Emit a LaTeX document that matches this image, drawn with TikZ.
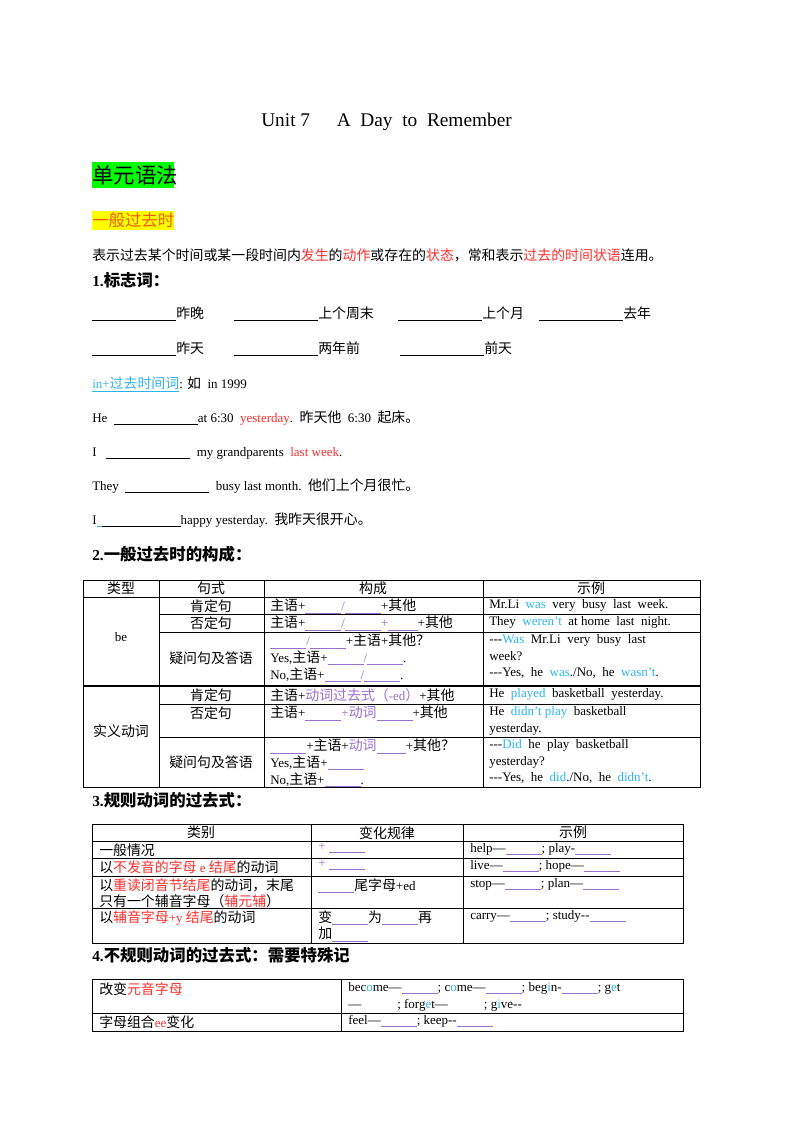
\documentclass[tikz,border=0pt]{standalone}
\usepackage{fontspec}
\usepackage[HTML]{xcolor}
\setmainfont{Liberation Serif}
\newfontfamily\cjk{Noto Sans CJK SC}[Scale=1.07]
% switch to the CJK font for Chinese characters and full-width punctuation
\XeTeXinterchartokenstate=1
\newXeTeXintercharclass\cjkclass
\count255="4E00 \loop\XeTeXcharclass\count255=\cjkclass\advance\count255 by 1 \ifnum\count255<"A000\repeat
\count255="3000 \loop\XeTeXcharclass\count255=\cjkclass\advance\count255 by 1 \ifnum\count255<"3040\repeat
\count255="FF00 \loop\XeTeXcharclass\count255=\cjkclass\advance\count255 by 1 \ifnum\count255<"FFF0\repeat
\XeTeXinterchartoks 0 \cjkclass={\cjk}
\XeTeXinterchartoks 4095 \cjkclass={\cjk}
\XeTeXinterchartoks \cjkclass 0={\rmfamily}
\XeTeXinterchartoks \cjkclass 4095={\rmfamily}
\usepackage{tikz}
\definecolor{pur}{HTML}{9B6FCF}
\definecolor{sky}{HTML}{2FB4EE}
\definecolor{rd}{HTML}{FF2E2E}
\definecolor{orng}{HTML}{EE5A10}
\definecolor{grn}{HTML}{00FF00}
\definecolor{ylw}{HTML}{FFFF00}
\newcommand\fs{\fontsize{9.75}{12.6}\selectfont}
\newcommand\bl[2][black]{\textcolor{#1}{\rule[-1.8pt]{#2pt}{0.5pt}}}
\newcommand\pb[1]{\bl[pur]{#1}}
\newcommand\sk[1]{\textcolor{sky}{#1}}
\newcommand\rt[1]{\textcolor{rd}{#1}}
\newcommand\pt[1]{\textcolor{pur}{#1}}
\newcommand\dsh{-{}-{}-}
\tikzset{
  txt/.style={anchor=base west, inner sep=0pt, font=\fs},
  head/.style={anchor=base west, inner sep=0pt, font=\fontsize{11.5}{14}\selectfont\bfseries},
  cell/.style={anchor=north west, inner sep=0pt, align=left, font=\fs},
  ccell/.style={anchor=north, inner sep=0pt, align=center, font=\fs},
  grid/.style={line width=0.6pt}
}
\begin{document}
\begin{tikzpicture}[x=0.75pt,y=-0.75pt]
\useasboundingbox[fill=white] (0,0) rectangle (800,1132);
% title and section marks
\node[txt, font=\fontsize{14.5}{16}\selectfont] (title) at (261,126) {Unit\ 7\hspace{20pt}A\ \ Day\ \ to\ \ Remember};
\fill[grn] (92,162) rectangle (174,188);
\node[txt, font=\fontsize{15}{18}\selectfont] (unit) at (92,183) {单元语法};
\fill[ylw] (92,211) rectangle (174,230);
\node[txt, font=\fontsize{11.5}{14}\selectfont, text=orng] (tense) at (92,226) {一般过去时};
\node[txt] (intro) at (92,260) {表示过去某个时间或某一段时间内\rt{发生}的\rt{动作}或存在的\rt{状态}，常和表示\rt{过去的时间状语}连用。};
\node[head] (h1) at (92,286) {1.标志词：};
% signal words
\node[txt] (w1) at (92,318) {\bl{63}昨晚};
\node[txt] (w2) at (234,318) {\bl{63}上个周末};
\node[txt] (w3) at (398,318) {\bl{63}上个月};
\node[txt] (w4) at (539,318) {\bl{63}去年};
\node[txt] (w5) at (92,353) {\bl{63}昨天};
\node[txt] (w6) at (234,353) {\bl{63}两年前};
\node[txt] (w7) at (400,353) {\bl{63}前天};
\node[txt] (inyr) at (92,388) {\textcolor{sky}{\underline{in+过去时间词}}: 如\ \ in 1999};
% example sentences
\node[txt] (s1) at (92,422) {He\ \ \bl{63}at 6:30\ \ \rt{yesterday}.\ \ 昨天他\ \ 6:30\ \ 起床。};
\node[txt] (s2) at (92,456) {I\ \ \ \bl{63}\ \ my grandparents\ \ \rt{last week}.};
\node[txt] (s3) at (92,490) {They\ \ \bl{63}\ \ busy last month.\ \ 他们上个月很忙。};
\node[txt] (s4) at (92,524) {I\bl[sky]{4}\bl{59}happy yesterday.\ \ 我昨天很开心。};
\node[head] (h2) at (92,560) {2.一般过去时的构成：};
% table of the forms
\draw[grid] (83,580) rectangle (700,787);
\foreach \x in {159,264,483} \draw[grid] (\x,580) -- (\x,787);
\draw[grid] (83,597) -- (700,597);
\foreach \y in {614,632,704,737} \draw[grid] (159,\y) -- (700,\y);
\draw[line width=1pt] (83,686) -- (700,686);
\node[ccell] (t1a) at (121,582) {类型};
\node[ccell] (t1b) at (211,582) {句式};
\node[ccell] (t1c) at (373,582) {构成};
\node[ccell] (t1d) at (591,582) {示例};
\node[ccell] (be) at (121,632) {be};
\node[ccell] (verb) at (121,724) {实义动词};
\node[ccell] (r1b) at (211,599) {肯定句};
\node[ccell] (r2b) at (211,616) {否定句};
\node[ccell] (r3b) at (211,651) {疑问句及答语};
\node[ccell] (r4b) at (211,688) {肯定句};
\node[ccell] (r5b) at (211,706) {否定句};
\node[ccell] (r6b) at (211,755) {疑问句及答语};
\node[cell] (r1c) at (270,599) {主语+\pb{27}\pt{/}\pb{27}+其他};
\node[cell] (r2c) at (270,616) {主语+\pb{27}\pt{/}\pb{27}\pt{+}\pb{22}+其他};
\node[cell] (r3c) at (270,634) {\pb{27}\pt{/}\pb{27}+主语+其他？\\Yes,主语+\pb{27}\pt{/}\pb{27}.\\No,主语+\pb{27}\pt{/}\pb{27}.};
\node[cell] (r4c) at (270,688) {主语+\pt{动词过去式（-ed）}+其他};
\node[cell] (r5c) at (270,706) {主语+\pb{27}\pt{+动词}\pb{27}+其他};
\node[cell] (r6c) at (270,739) {\pb{27}+主语+\pt{动词}\pb{22}+其他？\\Yes,主语+\pb{27}\\No,主语+\pb{27}.};
\node[cell] (r1d) at (489,599) {Mr.Li\ \ \sk{was}\ \ very\ \ busy\ \ last\ \ week.};
\node[cell] (r2d) at (489,616) {They\ \ \sk{weren’t}\ \ at\ home\ \ last\ \ night.};
\node[cell] (r3d) at (489,634) {\dsh\sk{Was}\ \ Mr.Li\ \ very\ \ busy\ \ last\\week?\\\dsh Yes,\ \ he\ \ \sk{was}./No,\ \ he\ \ \sk{wasn’t}.};
\node[cell] (r4d) at (489,688) {He\ \ \sk{played}\ \ basketball\ \ yesterday.};
\node[cell] (r5d) at (489,706) {He\ \ \sk{didn’t\ play}\ \ basketball\\yesterday.};
\node[cell] (r6d) at (489,739) {\dsh\sk{Did}\ \ he\ \ play\ \ basketball\\yesterday?\\\dsh Yes,\ \ he\ \ \sk{did}./No,\ \ he\ \ \sk{didn’t}.};
\node[head] (h3) at (92,806) {3.规则动词的过去式：};
% table of regular verbs
\draw[grid] (92,824) rectangle (683,943);
\foreach \x in {311,463} \draw[grid] (\x,824) -- (\x,943);
\foreach \y in {841,858,876,908} \draw[grid] (92,\y) -- (683,\y);
\node[ccell] (q1) at (201,826) {类别};
\node[ccell] (q2) at (387,826) {变化规律};
\node[ccell] (q3) at (573,826) {示例};
\node[cell] (g1a) at (99,843) {一般情况};
\node[cell] (g2a) at (99,860) {以\rt{不发音的字母 e 结尾}的动词};
\node[cell] (g3a) at (99,878) {以\rt{重读闭音节结尾}的动词，末尾\\只有一个辅音字母（\rt{辅元辅}）};
\node[cell] (g4a) at (99,910) {以\rt{辅音字母+y 结尾}的动词};
\node[cell] (g1b) at (318,843) {{\color{pur}+}\ \pb{27}};
\node[cell] (g2b) at (318,860) {{\color{pur}+}\ \pb{27}};
\node[cell] (g3b) at (318,878) {\pb{27}尾字母+ed};
\node[cell] (g4b) at (318,910) {变\pb{27}为\pb{27}再\\加\pb{27}};
\node[cell] (g1c) at (470,843) {help—\pb{27}; play-\pb{27}};
\node[cell] (g2c) at (470,860) {live—\pb{27}; hope—\pb{27}};
\node[cell] (g3c) at (470,878) {stop—\pb{27}; plan—\pb{27}};
\node[cell] (g4c) at (470,910) {carry—\pb{27}; study-{}-\pb{27}};
\node[head] (h4) at (92,961) {4.不规则动词的过去式：需要特殊记};
% table of irregular verbs
\draw[grid] (92,979) rectangle (683,1031);
\draw[grid] (341,979) -- (341,1031);
\draw[grid] (92,1013) -- (683,1013);
\node[cell] (v1a) at (99,982) {改变\rt{元音字母}};
\node[cell] (v2a) at (99,1015) {字母组合\rt{ee}变化};
\node[cell] (v1b) at (348,982) {bec\sk{o}me—\pb{27}; c\sk{o}me—\pb{27}; beg\sk{i}n-\pb{27}; g\sk{e}t\\—\hspace{27pt}; forg\sk{e}t—\hspace{27pt}; g\sk{i}ve-{}-};
\node[cell] (v2b) at (348,1015) {feel—\pb{27}; keep-{}-\pb{27}};
\end{tikzpicture}
\end{document}
